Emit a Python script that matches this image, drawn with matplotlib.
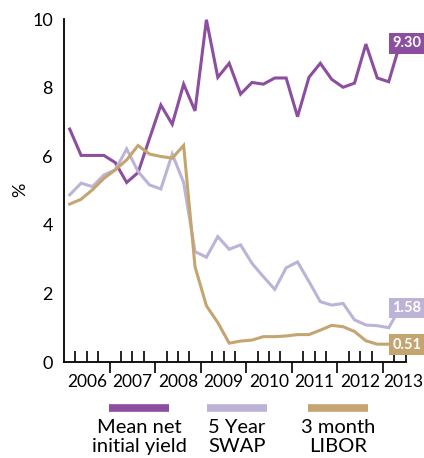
import numpy as np
import matplotlib
matplotlib.use("Agg")
import matplotlib.pyplot as plt
from matplotlib.lines import Line2D

plt.rcParams['font.family'] = ['Lato', 'DejaVu Sans']

# quarterly data, 2006 Q1 .. 2013 Q2 (points sit mid-quarter)
quarters = 2006 + (np.arange(30) + 0.5) / 4

yield_vals = [6.80, 6.03, 6.03, 6.03, 5.82, 5.24, 5.53, 6.52, 7.50, 6.94,
              8.11, 7.33, 9.99, 8.31, 8.72, 7.82, 8.16, 8.11, 8.29, 8.29,
              7.16, 8.31, 8.72, 8.25, 8.02, 8.14, 9.28, 8.29, 8.18, 9.30]
swap_vals = [4.88, 5.22, 5.12, 5.46, 5.61, 6.22, 5.56, 5.17, 5.05, 6.07,
             5.24, 3.22, 3.06, 3.66, 3.29, 3.42, 2.88, 2.49, 2.12, 2.75,
             2.92, 2.35, 1.76, 1.66, 1.71, 1.23, 1.08, 1.06, 1.00, 1.58]
libor_vals = [4.61, 4.75, 5.03, 5.36, 5.61, 5.90, 6.32, 6.07, 6.00, 5.95,
              6.32, 2.78, 1.64, 1.15, 0.55, 0.61, 0.64, 0.74, 0.74, 0.76,
              0.80, 0.80, 0.93, 1.07, 1.03, 0.89, 0.62, 0.52, 0.52, 0.51]

years = list(range(2006, 2014))
names = ["Mean net\ninitial yield", "5 Year\nSWAP", "3 month\nLIBOR"]
colors = ["#8c4f9f", "#bcb3d6", "#c4a570"]
series = [yield_vals, swap_vals, libor_vals]

fig = plt.figure(figsize=(4.24, 4.58), dpi=100)
ax = fig.add_axes([0.151, 0.2096, 0.806, 0.748])

for vals, col in zip(series, colors):
    ax.plot(quarters, vals, color=col, lw=2.2, solid_joinstyle='miter')

# end value labels
for vals, col in zip(series, colors):
    ax.text(2013.52, vals[-1], f"{vals[-1]:.2f}", color="white", fontsize=10.5,
            fontweight="bold", ha="center", va="center",
            bbox=dict(boxstyle="square,pad=0.22", fc=col, ec="none"))

ax.set_xlim(2006, 2013.5)
ax.set_ylim(0, 10)
ax.set_yticks([0, 2, 4, 6, 8, 10])
ax.tick_params(axis='y', length=0, labelsize=13, pad=8)
fig.text(20 / 424, 1 - 190 / 458, "%", rotation=90, ha="center", va="center",
         fontsize=13)

# year boundaries: outward ticks, quarters: inward ticks
ax.set_xticks(years[1:])
ax.set_xticklabels([])
ax.set_xticks([y + q / 4 for y in years for q in (1, 2, 3) if y + q / 4 <= 2013.5],
              minor=True)
ax.tick_params(axis='x', which='major', direction='out', length=8, width=1.2)
ax.tick_params(axis='x', which='minor', direction='in', length=8, width=1.2)
for y in years:
    xpos = y + 0.5 if y < 2013 else y + 0.44
    ax.text(xpos, -0.36, str(y), ha="center", va="top", fontsize=12.5,
            transform=ax.transData, clip_on=False)

for s in ["top", "right"]:
    ax.spines[s].set_visible(False)
for s in ["left", "bottom"]:
    ax.spines[s].set_linewidth(1.3)

# legend built by hand: swatch above two-line label
centers = [139, 237, 338]
for cx, col, name in zip(centers, colors, names):
    x0, x1 = (cx - 30) / 424, (cx + 30) / 424
    yy = 1 - 407.5 / 458
    fig.add_artist(Line2D([x0, x1], [yy, yy], color=col, lw=5.5,
                          solid_capstyle='butt'))
    fig.text(cx / 424, 1 - 419 / 458, name, ha="center", va="top",
             fontsize=14.5, linespacing=1.15)

fig.savefig("out.png", dpi=100)
